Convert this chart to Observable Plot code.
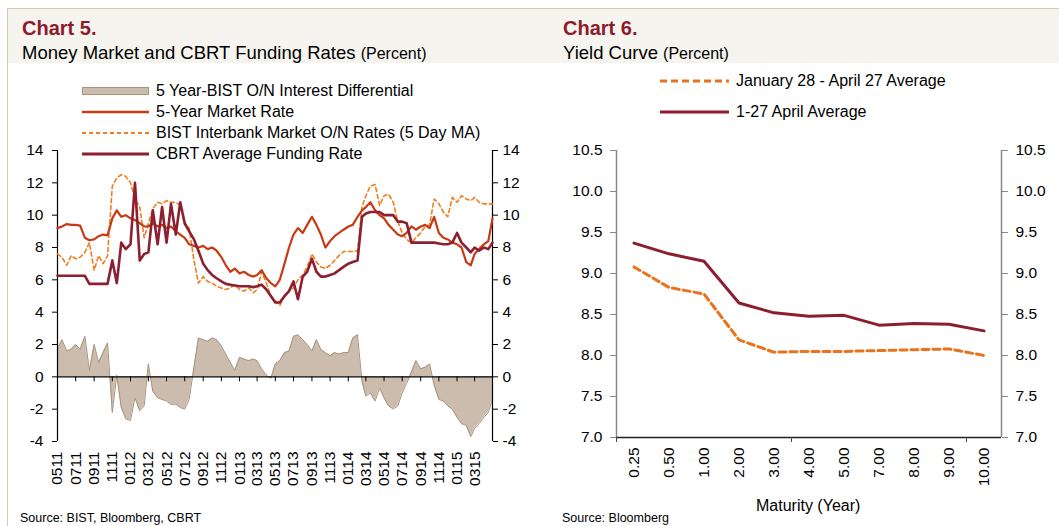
<!DOCTYPE html>
<html><head><meta charset="utf-8">
<script src="https://cdn.jsdelivr.net/npm/d3@7"></script>
<script src="https://cdn.jsdelivr.net/npm/@observablehq/plot@0.6"></script>
<style>
body{margin:0;background:#fff;font-family:"Liberation Sans",Arial,sans-serif;}
#wrap{position:relative;width:1059px;height:526px;overflow:hidden;background:#fff;}
.band{position:absolute;left:7px;top:8px;width:1052px;height:54px;background:#f6f4ef;border-top:1px solid #d6cbae;}
.vline{position:absolute;left:7px;top:8px;width:1px;height:518px;background:#d6cbae;}
.t{position:absolute;font-weight:bold;font-size:20px;line-height:20px;color:#8c1c2d;white-space:nowrap;}
.s{position:absolute;font-size:18.5px;line-height:18px;color:#000;white-space:nowrap;}
.s span{font-size:16px;}
.leg{position:absolute;height:20px;display:flex;align-items:center;font-size:16px;color:#000;white-space:nowrap;z-index:5;}
.leg svg{margin-right:7px;}
.plot{position:absolute;top:62px;}
.note{position:absolute;font-size:12.5px;line-height:13px;color:#000;white-space:nowrap;z-index:5;}
.axt{position:absolute;font-size:16px;color:#000;white-space:nowrap;z-index:5;}
</style></head>
<body><div id="wrap">
<div class="band"></div><div class="vline"></div>
<div class="t" style="left:22px;top:18px">Chart 5.</div>
<div class="s" style="left:22px;top:44px">Money Market and CBRT Funding Rates <span>(Percent)</span></div>
<div class="t" style="left:563px;top:18px">Chart 6.</div>
<div class="s" style="left:563px;top:44px">Yield Curve <span>(Percent)</span></div>
<div id="left" class="plot" style="left:0px"></div>
<div id="right" class="plot" style="left:540px"></div>
<div id="legL"></div><div id="legR"></div>
<div class="axt" style="left:756px;top:497px">Maturity (Year)</div>
<div class="note" style="left:20px;top:512px">Source: BIST, Bloomberg, CBRT</div>
<div class="note" style="left:562px;top:512px">Source: Bloomberg</div>
</div>
<script>
// ---------- Chart 5 data (semi-monthly readings, May 2011 – Apr 2015) ----------
const rate5y = [
 9.2, 9.3, 9.45, 9.4, 9.4, 9.35, 8.6, 8.45, 8.5, 8.7,
 8.8, 8.75, 9.8, 10.3, 9.9, 10.0, 9.8, 9.7, 9.5, 9.3,
 9.3, 9.5, 9.3, 9.4, 9.2, 9.3, 9.0, 8.8, 8.6, 8.2,
 8.1, 8.0, 8.1, 7.9, 8.0, 7.8, 7.4, 6.9, 6.5, 6.7,
 6.4, 6.5, 6.3, 6.2, 6.3, 6.6, 6.1, 5.8, 5.6, 6.0,
 7.0, 8.0, 8.8, 9.2, 8.9, 9.4, 9.9, 9.4, 8.8, 8.0,
 8.4, 8.7, 8.9, 9.1, 9.3, 9.4, 9.9, 10.3, 10.5, 10.8,
 10.3, 10.0, 9.8, 9.4, 9.1, 8.8, 8.7, 8.9, 9.3, 9.1,
 9.3, 9.4, 9.2, 9.9, 8.9, 8.6, 8.5, 8.3, 8.2, 8.0,
 7.1, 6.9, 7.6, 7.9, 8.2, 8.4, 9.8];
const bistON = [
 7.6, 7.4, 6.9, 7.5, 7.3, 7.4, 7.7, 8.3, 6.6, 7.5,
 7.0, 7.5, 11.8, 12.3, 12.5, 12.4, 12.0, 11.0, 10.5, 8.6,
 9.5, 10.4, 10.8, 10.7, 10.9, 10.8, 10.8, 10.6, 9.4, 9.2,
 7.2, 5.8, 6.2, 5.9, 5.8, 5.6, 5.5, 5.4, 5.5, 5.7,
 5.4, 5.3, 5.5, 5.2, 5.4, 6.5, 5.8, 5.0, 4.7, 4.4,
 5.0, 5.3, 5.5, 6.0, 6.3, 6.8, 7.6, 7.1, 6.8, 6.7,
 6.9, 7.2, 7.5, 7.75, 7.75, 7.75, 7.8, 10.5, 11.2, 11.8,
 11.9, 10.6, 11.2, 11.3, 10.8, 9.6, 8.9, 8.5, 8.3, 8.6,
 8.9, 9.3, 9.4, 11.0, 10.7, 10.2, 9.9, 11.1, 10.8, 11.2,
 11.0, 10.9, 11.1, 10.8, 10.7, 10.7, 10.7];
const cbrtFunding = [
 6.25, 6.25, 6.25, 6.25, 6.25, 6.25, 6.25, 5.75, 5.75, 5.75,
 5.75, 5.75, 7.2, 5.8, 8.3, 7.9, 8.2, 12.0, 7.2, 7.6,
 7.7, 10.3, 8.2, 10.5, 8.3, 10.7, 8.8, 10.8, 9.5, 9.0,
 8.5, 7.8, 7.0, 6.6, 6.3, 6.1, 5.9, 5.75, 5.7, 5.65,
 5.6, 5.6, 5.6, 5.55, 5.6, 5.7, 5.4, 5.0, 4.6, 4.6,
 5.0, 5.3, 5.9, 4.8, 6.2, 6.5, 7.3, 6.5, 6.2, 6.2,
 6.3, 6.4, 6.6, 6.8, 7.0, 7.1, 7.2, 9.9, 10.1, 10.2,
 10.2, 10.2, 10.0, 10.0, 10.0, 9.6, 9.6, 9.5, 8.3, 8.3,
 8.3, 8.3, 8.3, 8.3, 8.25, 8.2, 8.2, 8.3, 8.9, 8.3,
 8.0, 7.7, 8.0, 7.8, 8.0, 7.9, 8.3];
const differential = [
 1.7, 2.3, 1.6, 1.7, 2.0, 1.7, 2.5, 0.4, 2.0, 0.9,
 1.5, 2.1, -2.2, 0.1, -1.9, -2.6, -2.7, -1.3, -2.1, -1.8,
 0.8, -0.9, -1.3, -1.4, -1.5, -1.7, -1.7, -1.9, -2.0, -1.4,
 0.6, 2.4, 2.3, 2.2, 2.4, 2.3, 1.9, 1.4, 0.9, 0.4,
 1.2, 1.1, 1.0, 1.1, 1.0, 0.5, 0.1, -0.1, 0.8, 1.0,
 1.5, 1.6, 2.5, 2.6, 2.3, 2.0, 1.6, 2.3, 1.7, 1.5,
 1.3, 1.5, 1.4, 1.5, 1.5, 2.4, 2.6, -0.3, -1.2, -1.0,
 -1.5, -0.7, -1.3, -1.8, -2.0, -1.8, -1.0, -0.4, 0.3, 1.0,
 0.5, 0.6, 0.8, -0.5, -1.4, -1.5, -1.8, -2.0, -2.5, -2.9,
 -3.0, -3.7, -3.2, -2.9, -2.5, -2.2, -1.4];
const startDate = new Date(Date.UTC(2011, 4, 1));
const endDate = new Date(Date.UTC(2015, 3, 30));
const dates = d3.utcMonth.range(startDate, new Date(Date.UTC(2015, 4, 1)))
  .flatMap(m => [m, d3.utcDay.offset(m, 15)]).concat([endDate]);
const leftYTicks = [-4, -2, 0, 2, 4, 6, 8, 10, 12, 14];
const leftXTicks = d3.utcMonth.every(2).range(startDate, new Date(Date.UTC(2015, 2, 2)));
const leftLegend = ["5 Year-BIST O/N Interest Differential", "5-Year Market Rate",
  "BIST Interbank Market O/N Rates (5 Day MA)", "CBRT Average Funding Rate"];

// ---------- Chart 6 data ----------
const maturities = ["0.25","0.50","1.00","2.00","3.00","4.00","5.00","7.00","8.00","9.00","10.00"];
const janAprAvg = [9.08, 8.83, 8.75, 8.19, 8.04, 8.05, 8.05, 8.06, 8.07, 8.08, 8.00];
const aprilAvg = [9.37, 9.24, 9.15, 8.64, 8.52, 8.48, 8.49, 8.37, 8.39, 8.38, 8.30];
const rightYTicks = [7.0, 7.5, 8.0, 8.5, 9.0, 9.5, 10.0, 10.5];
const rightLegend = ["January 28 - April 27 Average", "1-27 April Average"];

const C = {r5: "#c83a14", bist: "#f07e1f", cbrt: "#8c1f30", fill: "#cbbcad", fillLine: "#a8937c",
           yOrange: "#e8731c", yMaroon: "#8b1f2e"};
const font = '"Liberation Sans", Arial, sans-serif';
const plainNum = d => String(d);

const rows = dates.map((d, i) => ({date: d, r5: rate5y[i], bist: bistON[i], cbrt: cbrtFunding[i], diff: differential[i]}));

const left = Plot.plot({
  width: 530, height: 464, marginLeft: 57, marginRight: 38, marginTop: 88, marginBottom: 85,
  style: {fontFamily: font, fontSize: "15px", color: "#000", background: "transparent", overflow: "visible"},
  x: {type: "utc", domain: [startDate, endDate], label: null},
  y: {domain: [-4, 14], label: null},
  marks: [
    Plot.areaY(rows, {x: "date", y: "diff", fill: C.fill}),
    Plot.lineY(rows, {x: "date", y: "diff", stroke: C.fillLine, strokeWidth: 1}),
    Plot.ruleY([0], {stroke: "#000", strokeWidth: 1.3}),
    Plot.ruleX(leftXTicks, {x: d => d, y1: 0, y2: 0, insetBottom: -5, stroke: "#000"}),
    Plot.axisX(leftXTicks, {anchor: "bottom", tickFormat: d3.utcFormat("%m%y"), tickRotate: -90, tickSize: 0, tickPadding: 10, fontSize: 15.5}),
    Plot.axisY(leftYTicks, {anchor: "left", tickSize: 5, tickPadding: 9, fontSize: 15.5, tickFormat: plainNum}),
    Plot.axisY(leftYTicks, {anchor: "right", tickSize: 5, tickPadding: 5, fontSize: 15.5, tickFormat: plainNum}),
    Plot.ruleX([startDate, endDate], {stroke: "#000", strokeWidth: 1.2}),
    Plot.lineY(rows, {x: "date", y: "bist", stroke: C.bist, strokeWidth: 1.6, strokeDasharray: "4,3"}),
    Plot.lineY(rows, {x: "date", y: "r5", stroke: C.r5, strokeWidth: 2.2}),
    Plot.lineY(rows, {x: "date", y: "cbrt", stroke: C.cbrt, strokeWidth: 2.6})
  ]
});
document.getElementById("left").append(left);

const curve = maturities.flatMap((m, i) => [
  {i, v: janAprAvg[i], s: rightLegend[0]},
  {i, v: aprilAvg[i], s: rightLegend[1]}
]);
const idx = maturities.map((m, i) => i);
const right = Plot.plot({
  width: 519, height: 464, marginLeft: 76, marginRight: 58, marginTop: 88, marginBottom: 89,
  style: {fontFamily: font, fontSize: "15px", color: "#000", background: "transparent", overflow: "visible"},
  x: {domain: [-0.5, maturities.length - 0.5], label: null},
  y: {domain: [7, 10.5], label: null},
  marks: [
    Plot.ruleX([-0.5, maturities.length - 0.5], {stroke: "#888", strokeWidth: 1.5}),
    Plot.ruleY([7], {stroke: "#222", strokeWidth: 1.3}),
    Plot.ruleX([-0.5, 4.5, 9.5], {x: d => d, y1: 7, y2: 7, insetBottom: -5, stroke: "#444"}),
    Plot.axisX(idx, {anchor: "bottom", tickFormat: i => maturities[i], tickRotate: -90, tickSize: 0, tickPadding: 10, fontSize: 15.5}),
    Plot.axisY(rightYTicks, {anchor: "left", tickSize: 6, tickPadding: 8, fontSize: 15.5, tickFormat: d3.format(".1f"), stroke: "#888"}),
    Plot.axisY(rightYTicks, {anchor: "right", tickSize: 6, tickPadding: 8, fontSize: 15.5, tickFormat: d3.format(".1f"), stroke: "#888"}),
    Plot.lineY(curve.filter(d => d.s === rightLegend[0]), {x: "i", y: "v", stroke: C.yOrange, strokeWidth: 3, strokeDasharray: "7,4"}),
    Plot.lineY(curve.filter(d => d.s === rightLegend[1]), {x: "i", y: "v", stroke: C.yMaroon, strokeWidth: 3})
  ]
});
document.getElementById("right").append(right);

// ---------- legends (HTML) ----------
function swatch(kind, color, w) {
  const ns = "http://www.w3.org/2000/svg";
  const s = document.createElementNS(ns, "svg");
  s.setAttribute("width", w); s.setAttribute("height", 20);
  if (kind === "rect") {
    const r = document.createElementNS(ns, "rect");
    r.setAttribute("x", 0.5); r.setAttribute("y", 6.5); r.setAttribute("width", w - 1); r.setAttribute("height", 7);
    r.setAttribute("fill", C.fill); r.setAttribute("stroke", C.fillLine);
    s.append(r);
  } else {
    const l = document.createElementNS(ns, "line");
    l.setAttribute("x1", 0); l.setAttribute("x2", w); l.setAttribute("y1", 10); l.setAttribute("y2", 10);
    l.setAttribute("stroke", color); l.setAttribute("stroke-width", kind.width);
    if (kind.dash) l.setAttribute("stroke-dasharray", kind.dash);
    s.append(l);
  }
  return s;
}
function addLegend(id, items, left, tops, w) {
  const host = document.getElementById(id);
  items.forEach((it, k) => {
    const d = document.createElement("div");
    d.className = "leg"; d.style.left = left + "px"; d.style.top = (tops[k] - 10) + "px";
    d.append(swatch(it.kind, it.color, w));
    const t = document.createElement("span"); t.textContent = it.label; d.append(t);
    host.append(d);
  });
}
addLegend("legL", [
  {kind: "rect", color: C.fill, label: leftLegend[0]},
  {kind: {width: 2.6}, color: C.r5, label: leftLegend[1]},
  {kind: {width: 1.8, dash: "4,3"}, color: C.bist, label: leftLegend[2]},
  {kind: {width: 3}, color: C.cbrt, label: leftLegend[3]}
], 82, [91, 112, 133, 154], 67);
addLegend("legR", [
  {kind: {width: 3, dash: "7,4"}, color: C.yOrange, label: rightLegend[0]},
  {kind: {width: 3}, color: C.yMaroon, label: rightLegend[1]}
], 660, [81, 112], 69);
</script>
</body></html>
